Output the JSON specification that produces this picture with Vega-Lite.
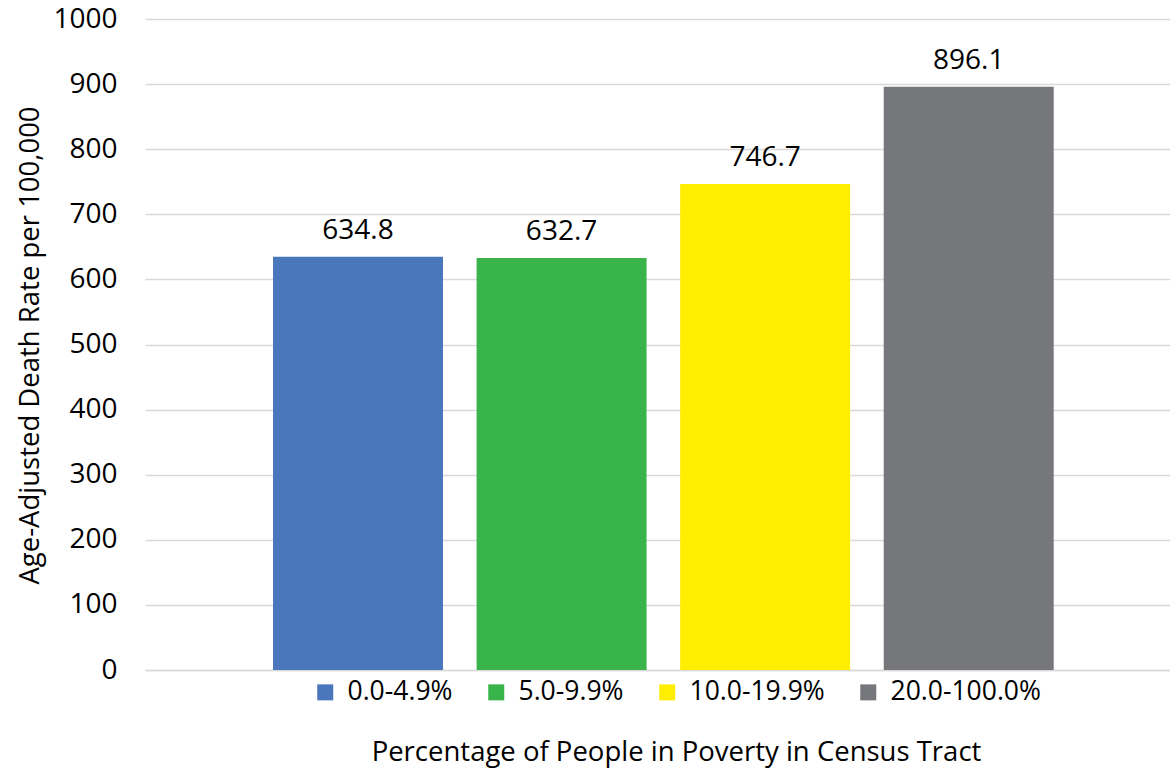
{
  "$schema": "https://vega.github.io/schema/vega-lite/v6.json",
  "autosize": {"type": "none"},
  "padding": {"left": 145, "top": 19, "right": 0, "bottom": 99},
  "width": 1025,
  "height": 651,
  "background": "white",
  "config": {
    "font": "Open Sans",
    "view": {"stroke": null},
    "axis": {"labelFont": "Open Sans", "titleFont": "Open Sans", "labelColor": "#000000", "titleColor": "#000000", "titleFontWeight": "normal"},
    "legend": {"labelFont": "Open Sans", "labelColor": "#000000"}
  },
  "data": {
    "values": [
      {"poverty": "0.0-4.9%", "rate": 634.8},
      {"poverty": "5.0-9.9%", "rate": 632.7},
      {"poverty": "10.0-19.9%", "rate": 746.7},
      {"poverty": "20.0-100.0%", "rate": 896.1}
    ]
  },
  "encoding": {
    "x": {
      "field": "poverty",
      "type": "nominal",
      "sort": ["0.0-4.9%", "5.0-9.9%", "10.0-19.9%", "20.0-100.0%"],
      "scale": {"paddingInner": 0.165, "paddingOuter": 0.6, "align": 0.524},
      "axis": {
        "title": "Percentage of People in Poverty in Census Tract",
        "labels": false,
        "ticks": false,
        "domain": true,
        "domainColor": "#d9d9d9",
        "domainWidth": 1.5,
        "titleFontSize": 27.5,
        "titleX": 531,
        "titleY": 82,
        "titleAlign": "center",
        "titleBaseline": "middle"
      }
    },
    "y": {
      "field": "rate",
      "type": "quantitative",
      "scale": {"domain": [0, 1000], "nice": false},
      "axis": {
        "title": "Age-Adjusted Death Rate per 100,000",
        "values": [0, 100, 200, 300, 400, 500, 600, 700, 800, 900, 1000],
        "format": "d",
        "domain": false,
        "ticks": false,
        "grid": true,
        "gridColor": "#d9d9d9",
        "gridWidth": 1.5,
        "labelFontSize": 28,
        "labelPadding": 28,
        "titleFontSize": 27.5,
        "titleAngle": -90,
        "titleX": -115,
        "titleY": 326,
        "titleAlign": "center",
        "titleBaseline": "middle"
      }
    }
  },
  "layer": [
    {
      "mark": {"type": "bar"},
      "encoding": {
        "color": {
          "field": "poverty",
          "type": "nominal",
          "sort": ["0.0-4.9%", "5.0-9.9%", "10.0-19.9%", "20.0-100.0%"],
          "scale": {"domain": ["0.0-4.9%", "5.0-9.9%", "10.0-19.9%", "20.0-100.0%"], "range": ["#4a76bb", "#39b44a", "#ffee00", "#76777b"]},
          "legend": {
            "title": null,
            "orient": "none",
            "direction": "horizontal",
            "legendX": 167,
            "legendY": 660,
            "symbolType": "square",
            "symbolSize": 256,
            "symbolStrokeWidth": 0,
            "labelFontSize": 26.5,
            "labelOffset": 9,
            "columnPadding": 30
          }
        }
      }
    },
    {
      "mark": {"type": "text", "baseline": "bottom", "dy": -12, "fontSize": 28, "color": "#000000"},
      "encoding": {
        "text": {"field": "rate", "type": "quantitative", "format": ".1f"}
      }
    }
  ]
}
